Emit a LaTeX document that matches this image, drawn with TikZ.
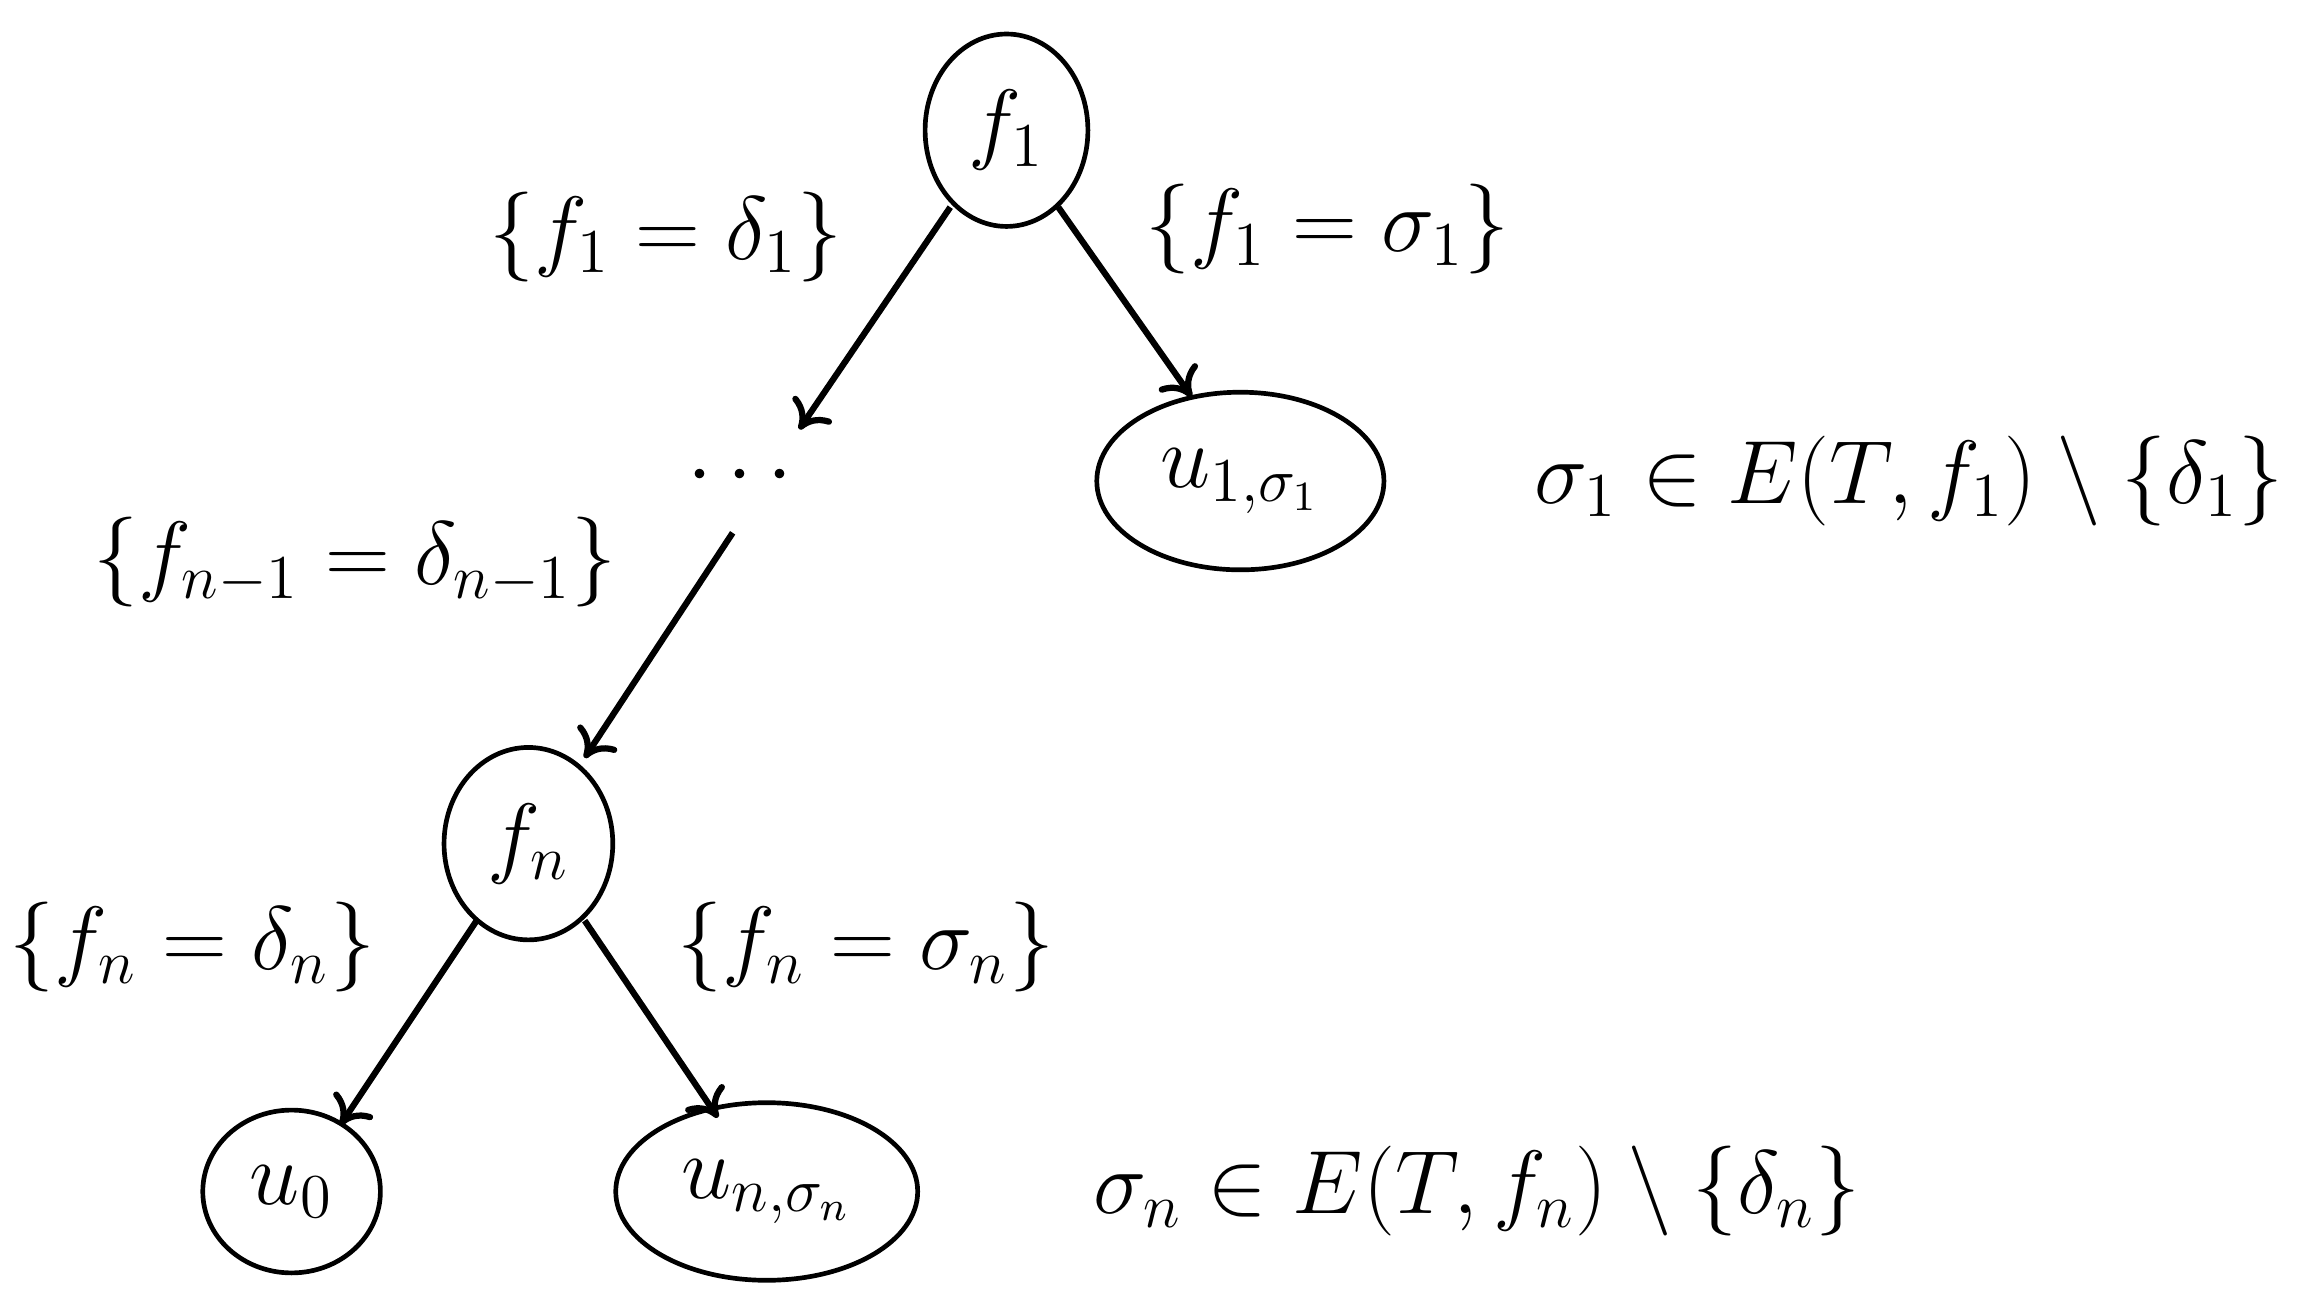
\documentclass[tikz,border=0pt]{standalone}
\usetikzlibrary{shapes.geometric,arrows.meta}
\begin{document}
\begin{tikzpicture}[x=1cm,y=1cm,
  every node/.style={font=\fontsize{16.5}{20}\selectfont},
  el/.style={draw,ellipse,line width=0.9pt,inner sep=0pt},
  ar/.style={line width=1.2pt,-{To[length=5pt,width=9pt]}}]
\useasboundingbox (0,0) rectangle (15.6,-8.76);
\node[el,minimum width=1.1cm,minimum height=1.3cm] (f1) at (6.8,-0.88) {$f_1$};
\node[inner sep=2pt] (d) at (5.0,-3.22) {$\cdots$};
\node[el,minimum width=1.94cm,minimum height=1.2cm] (u1) at (8.38,-3.25) {$u_{1,\sigma_1}$};
\node[el,minimum width=1.14cm,minimum height=1.3cm] (fn) at (3.57,-5.7) {$f_n$};
\node[el,minimum width=1.2cm,minimum height=1.1cm] (u0) at (1.97,-8.05) {$u_0$};
\node[el,minimum width=2.04cm,minimum height=1.2cm] (un) at (5.18,-8.05) {$u_{n,\sigma_n}$};
\coordinate (a1) at (6.42,-1.40); \coordinate (a1e) at (5.40,-2.90);
\coordinate (b1) at (7.15,-1.40); \coordinate (b1e) at (8.05,-2.68);
\coordinate (c1) at (4.95,-3.60); \coordinate (c1e) at (3.95,-5.12);
\coordinate (e1) at (3.22,-6.22); \coordinate (e1e) at (2.30,-7.60);
\coordinate (g1) at (3.95,-6.22); \coordinate (g1e) at (4.85,-7.55);
\draw[ar] (a1) -- (a1e);
\draw[ar] (b1) -- (b1e);
\draw[ar] (c1) -- (c1e);
\draw[ar] (e1) -- (e1e);
\draw[ar] (g1) -- (g1e);
\node (l1) at (4.5,-1.6) {$\{f_1=\delta_1\}$};
\node (l2) at (8.97,-1.55) {$\{f_1=\sigma_1\}$};
\node (l3) at (2.4,-3.8) {$\{f_{n-1}=\delta_{n-1}\}$};
\node (l4) at (1.3,-6.4) {$\{f_n=\delta_n\}$};
\node (l5) at (5.85,-6.4) {$\{f_n=\sigma_n\}$};
\node[anchor=east] (l6) at (15.55,-3.25) {$\sigma_1\in E(T,f_1)\setminus\{\delta_1\}$};
\node (l7) at (9.98,-8.05) {$\sigma_n\in E(T,f_n)\setminus\{\delta_n\}$};
\end{tikzpicture}
\end{document}
